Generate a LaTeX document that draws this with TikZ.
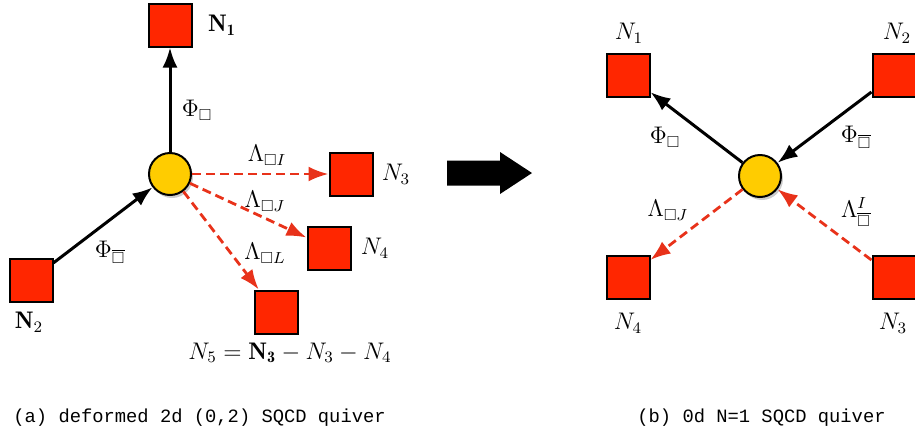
\documentclass[tikz,border=0pt]{standalone}
\usepackage{amsmath,amssymb}
\usepackage{fontspec}
\setmonofont{Liberation Mono}
\usetikzlibrary{arrows.meta,shadows}
\definecolor{boxred}{HTML}{FF2600}
\definecolor{gaugefill}{HTML}{FFCC00}
\definecolor{fermired}{HTML}{E8321A}
\tikzset{
  flavor/.style={draw,line width=1pt,fill=boxred,minimum size=21.5pt,inner sep=0pt},
  gaugenode/.style={circle,draw,line width=1pt,fill=gaugefill,minimum size=21pt,inner sep=0pt,drop shadow={opacity=0.4,shadow xshift=1pt,shadow yshift=-1.5pt}},
  chiral/.style={-{Latex[length=10pt,width=7.5pt]},line width=1.5pt},
  fermiarrow/.style={-{Latex[length=10pt,width=7.5pt]},line width=1.4pt,dash pattern=on 4.5pt off 2.5pt,fermired},
  tag/.style={font=\fontsize{12}{14}\selectfont,inner sep=0pt},
  caption/.style={font=\fontsize{9.4}{11}\selectfont\ttfamily,inner sep=0pt,anchor=west}
}

\begin{document}
\begin{tikzpicture}[x=0.5pt,y=-0.5pt]
  \useasboundingbox (0,0) rectangle (915,436);

  % Left quiver
  \node[gaugenode] (g) at (170,174) {};
  \node[flavor] (f1) at (170,25) {};
  \node[flavor] (f2) at (31,280) {};
  \node[flavor] (f3) at (351,174) {};
  \node[flavor] (f4) at (329,248) {};
  \node[flavor] (f5) at (276,312) {};

  \node[tag] (t1) at (222,25) {$\mathbf{N_1}$};
  \node[tag] (t2) at (29,322) {$\mathbf{N}_2$};
  \node[tag] (t3) at (396,174) {$N_3$};
  \node[tag] (t4) at (375,248) {$N_4$};
  \node[tag] (t5) at (290,353) {$N_5=\mathbf{N_3}-N_3-N_4$};

  \node[tag] (phia) at (197,110) {$\Phi_\Box$};
  \node[tag] (phib) at (110,252) {$\Phi_{\overline{\Box}}$};
  \node[tag] (lami) at (267,155) {$\Lambda_{\Box I}$};
  \node[tag] (lamj) at (265,201) {$\Lambda_{\Box J}$};
  \node[tag] (laml) at (265,253) {$\Lambda_{\Box L}$};

  \draw[chiral] (g) -- (f1);
  \draw[chiral] (f2) -- (g);
  \draw[fermiarrow] (g) -- (f3);
  \draw[fermiarrow] (g) -- (f4);
  \draw[fermiarrow] (g) -- (f5);

  % Big arrow
  \fill (447,160.5) -- (500,160.5) -- (500,152) -- (532,173) -- (500,194) -- (500,185.5) -- (447,185.5) -- cycle;

  % Right quiver
  \node[gaugenode] (h) at (760,176) {};
  \node[flavor] (r1) at (628,75) {};
  \node[flavor] (r2) at (894,75) {};
  \node[flavor] (r3) at (894,277) {};
  \node[flavor] (r4) at (628,277) {};

  \node[tag] (s1) at (629,33) {$N_1$};
  \node[tag] (s2) at (897,33) {$N_2$};
  \node[tag] (s3) at (893,323) {$N_3$};
  \node[tag] (s4) at (628,323) {$N_4$};

  \node[tag] (phic) at (665,137) {$\Phi_\Box$};
  \node[tag] (phid) at (856,137) {$\Phi_{\overline{\Box}}$};
  \node[tag] (lamk) at (668,210) {$\Lambda_{\Box J}$};
  \node[tag] (lamm) at (856,212) {$\Lambda^{I}_{\overline{\Box}}$};

  \draw[chiral] (h) -- (r1);
  \draw[chiral] (r2) -- (h);
  \draw[fermiarrow] (h) -- (r4);
  \draw[fermiarrow] (r3) -- (h);

  % Captions
  \node[caption] (capa) at (13,418) {(a) deformed 2d (0,2) SQCD quiver};
  \node[caption] (capb) at (637,418) {(b) 0d N=1 SQCD quiver};
\end{tikzpicture}
\end{document}
